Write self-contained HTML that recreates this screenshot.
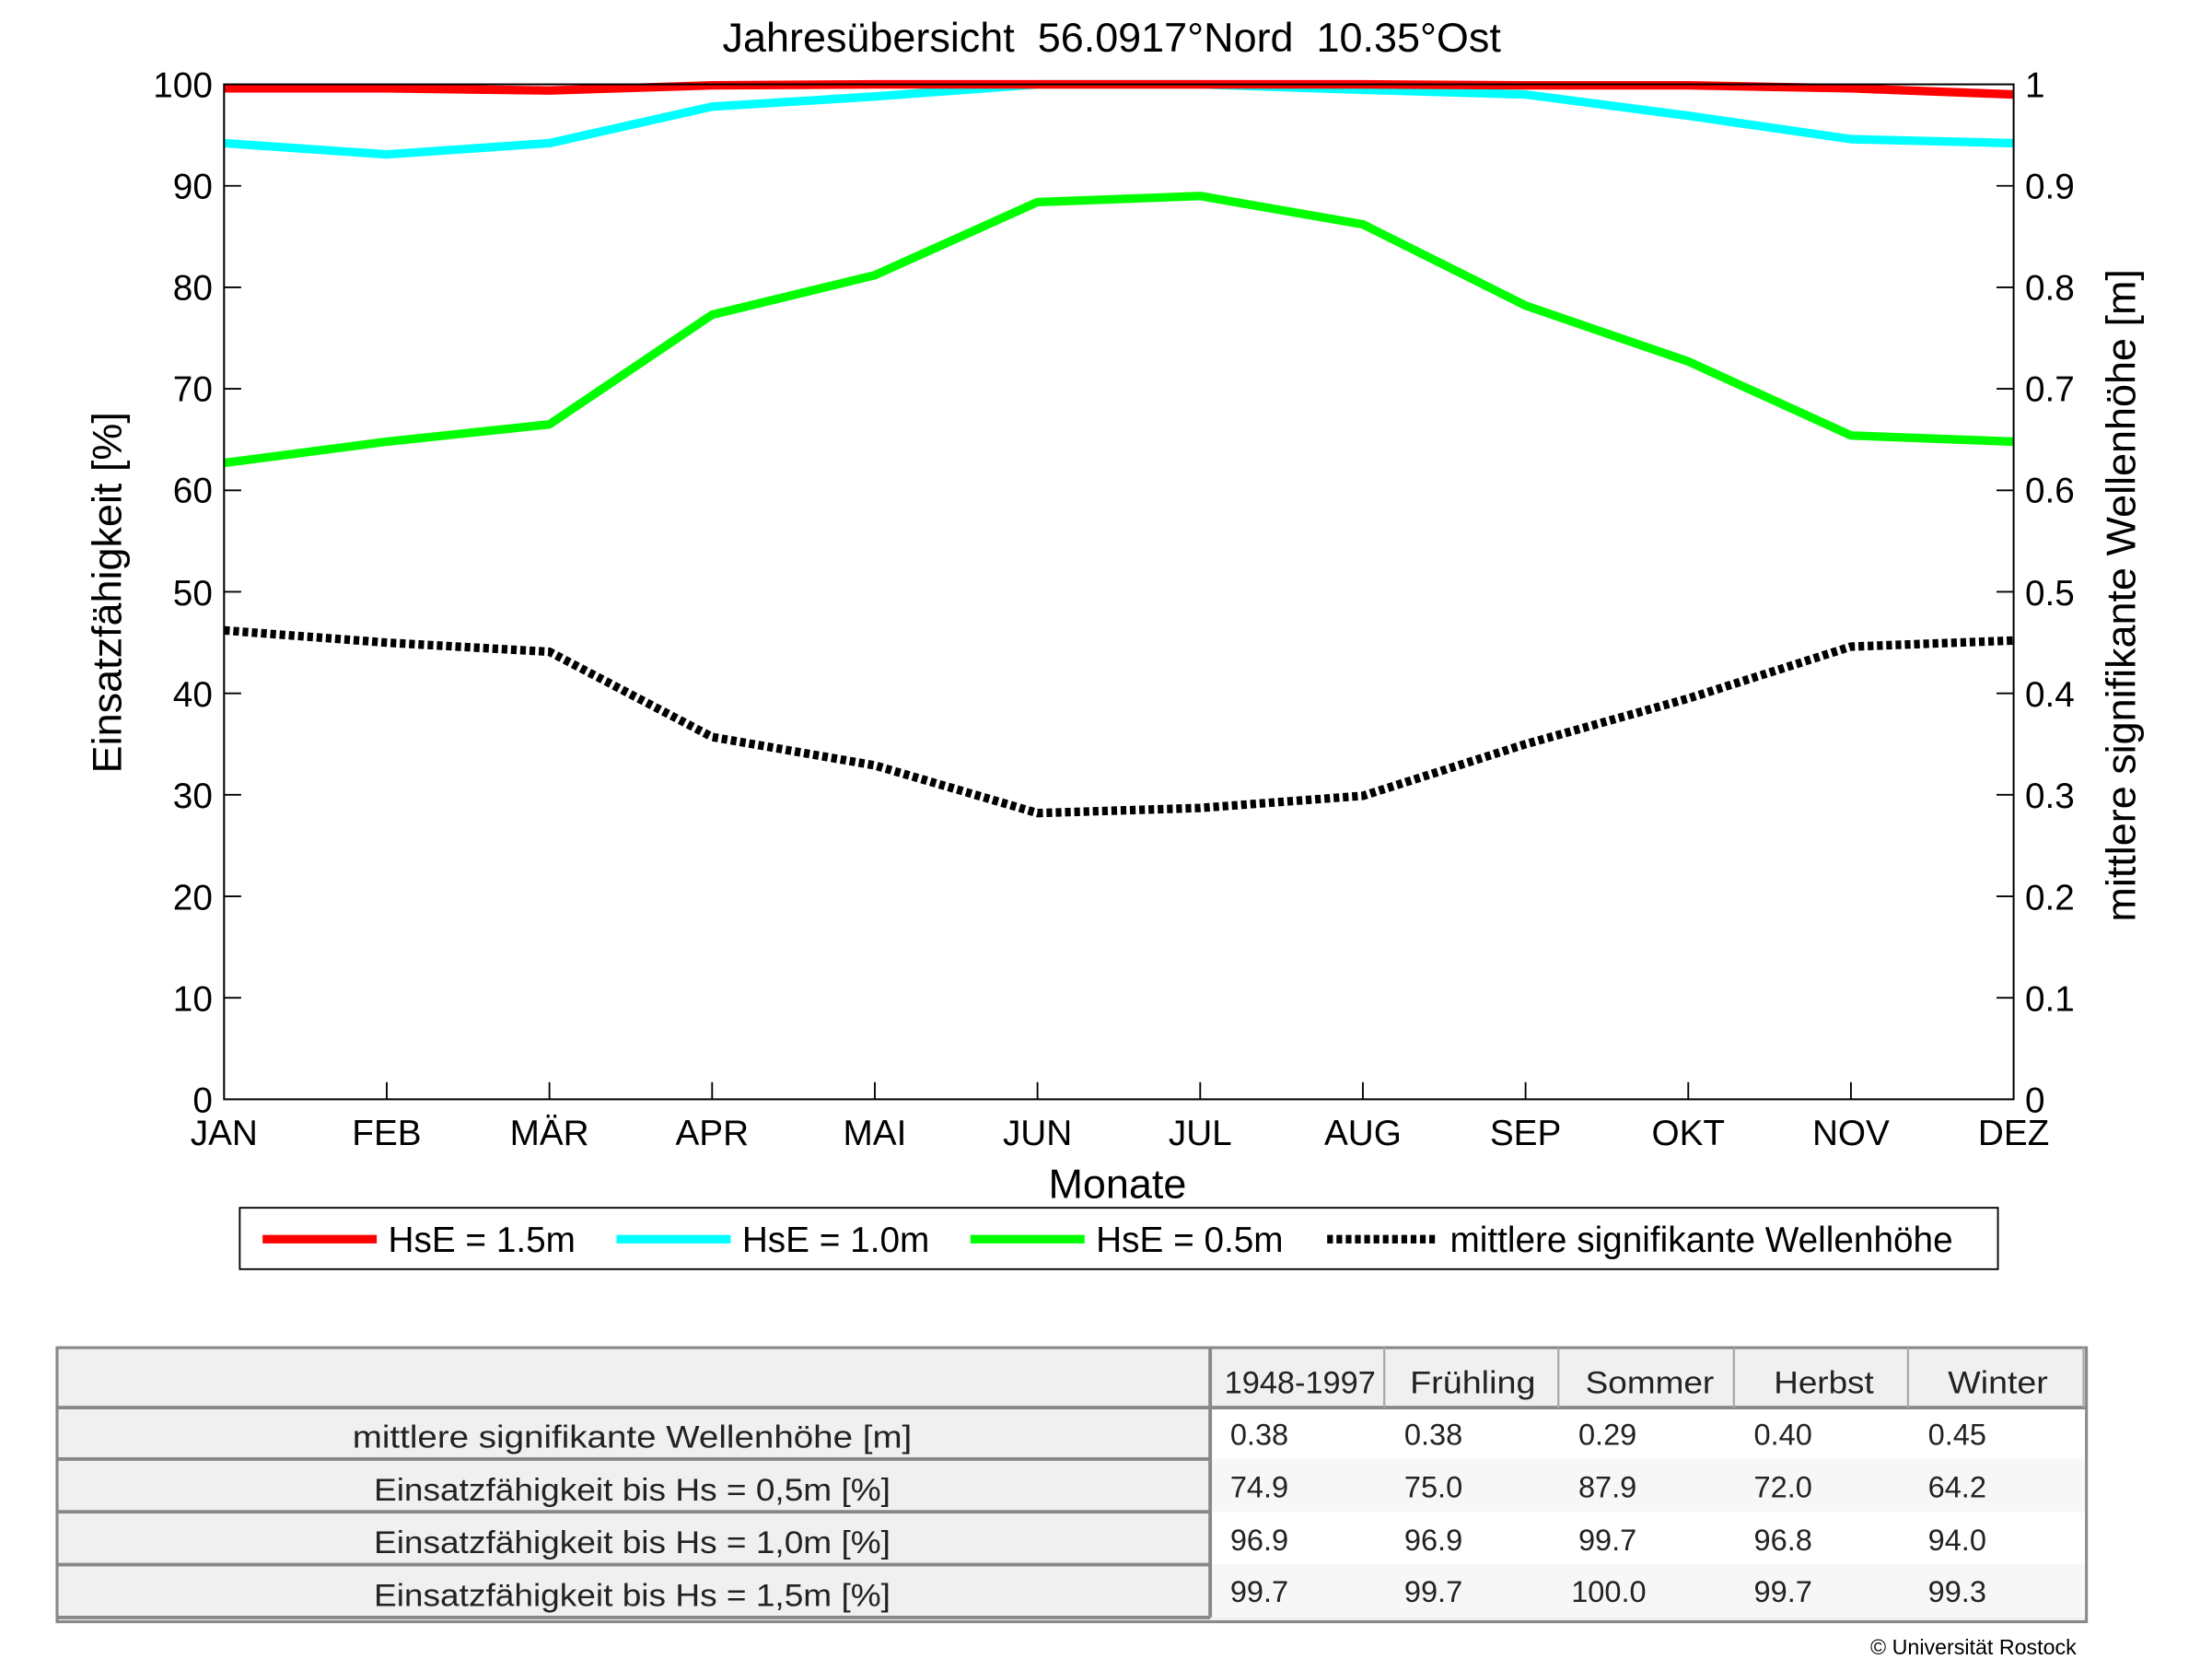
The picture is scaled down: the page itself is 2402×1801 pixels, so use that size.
<!DOCTYPE html>
<html><head><meta charset="utf-8"><style>html,body{margin:0;padding:0;background:#fff}svg{display:block}</style></head>
<body>
<svg width="2402" height="1801" viewBox="0 0 1550 1162" xmlns="http://www.w3.org/2000/svg" font-family="Liberation Sans, sans-serif">
<rect width="1550" height="1162" fill="#fff"/>
<text x="779" y="36" font-size="29" text-anchor="middle">Jahresübersicht&#160; 56.0917°Nord&#160; 10.35°Ost</text>
<g fill="none" stroke-linejoin="round">
<polyline stroke="#00ff00" stroke-width="6" points="157,324.2 271,309.3 385,297.2 499,220.4 613,192.7 727,141.5 841,137.2 955,157.1 1069,214.0 1183,253.1 1297,305.0 1411,309.3"/>
<polyline stroke="#00ffff" stroke-width="6" points="157,100.2 271,108.1 385,100.2 499,74.6 613,67.5 727,59 841,59 955,62.8 1069,66.1 1183,81.0 1297,97.4 1411,100.2"/>
<polyline stroke="#ff0000" stroke-width="6" points="157,61.8 271,61.8 385,63.3 499,59.7 613,59 727,59 841,59 955,59 1069,59.7 1183,59.7 1297,61.8 1411,66.1"/>
<polyline stroke="#000" stroke-width="6" stroke-dasharray="4,2.5" points="157,441.5 271,450.1 385,456.5 499,516.2 613,536.1 727,569.5 841,565.9 955,557.4 1069,521.2 1183,489.2 1297,452.9 1411,448.6"/>
</g>
<rect x="157" y="59" width="1254" height="711" fill="none" stroke="#000" stroke-width="1.3"/>
<g stroke="#000" stroke-width="1.2">
<line x1="157" y1="698.9" x2="169" y2="698.9"/><line x1="157" y1="627.8" x2="169" y2="627.8"/><line x1="157" y1="556.7" x2="169" y2="556.7"/><line x1="157" y1="485.6" x2="169" y2="485.6"/><line x1="157" y1="414.5" x2="169" y2="414.5"/><line x1="157" y1="343.4" x2="169" y2="343.4"/><line x1="157" y1="272.3" x2="169" y2="272.3"/><line x1="157" y1="201.2" x2="169" y2="201.2"/><line x1="157" y1="130.1" x2="169" y2="130.1"/>
<line x1="1399" y1="698.9" x2="1411" y2="698.9"/><line x1="1399" y1="627.8" x2="1411" y2="627.8"/><line x1="1399" y1="556.7" x2="1411" y2="556.7"/><line x1="1399" y1="485.6" x2="1411" y2="485.6"/><line x1="1399" y1="414.5" x2="1411" y2="414.5"/><line x1="1399" y1="343.4" x2="1411" y2="343.4"/><line x1="1399" y1="272.3" x2="1411" y2="272.3"/><line x1="1399" y1="201.2" x2="1411" y2="201.2"/><line x1="1399" y1="130.1" x2="1411" y2="130.1"/>
<line x1="271" y1="770" x2="271" y2="758"/><line x1="385" y1="770" x2="385" y2="758"/><line x1="499" y1="770" x2="499" y2="758"/><line x1="613" y1="770" x2="613" y2="758"/><line x1="727" y1="770" x2="727" y2="758"/><line x1="841" y1="770" x2="841" y2="758"/><line x1="955" y1="770" x2="955" y2="758"/><line x1="1069" y1="770" x2="1069" y2="758"/><line x1="1183" y1="770" x2="1183" y2="758"/><line x1="1297" y1="770" x2="1297" y2="758"/>
</g>
<g font-size="25" text-anchor="end">
<text x="149" y="779">0</text><text x="149" y="708">10</text><text x="149" y="637">20</text><text x="149" y="566">30</text><text x="149" y="495">40</text><text x="149" y="424">50</text><text x="149" y="352">60</text><text x="149" y="281">70</text><text x="149" y="210">80</text><text x="149" y="139">90</text><text x="149" y="68">100</text>
</g>
<g font-size="25">
<text x="1419" y="779">0</text><text x="1419" y="708">0.1</text><text x="1419" y="637">0.2</text><text x="1419" y="566">0.3</text><text x="1419" y="495">0.4</text><text x="1419" y="424">0.5</text><text x="1419" y="352">0.6</text><text x="1419" y="281">0.7</text><text x="1419" y="210">0.8</text><text x="1419" y="139">0.9</text><text x="1419" y="68">1</text>
</g>
<g font-size="25" text-anchor="middle">
<text x="157" y="802">JAN</text><text x="271" y="802">FEB</text><text x="385" y="802">MÄR</text><text x="499" y="802">APR</text><text x="613" y="802">MAI</text><text x="727" y="802">JUN</text><text x="841" y="802">JUL</text><text x="955" y="802">AUG</text><text x="1069" y="802">SEP</text><text x="1183" y="802">OKT</text><text x="1297" y="802">NOV</text><text x="1411" y="802">DEZ</text>
</g>
<text x="783" y="839" font-size="29" text-anchor="middle">Monate</text>
<text transform="translate(85,415) rotate(-90)" font-size="29" text-anchor="middle">Einsatzfähigkeit [%]</text>
<text transform="translate(1496,417) rotate(-90)" font-size="29" text-anchor="middle">mittlere signifikante Wellenhöhe [m]</text>
<rect x="168" y="846" width="1232" height="43" fill="#fff" stroke="#000" stroke-width="1.2"/>
<line x1="184" y1="868" x2="264" y2="868" stroke="#ff0000" stroke-width="6"/>
<text x="272" y="877" font-size="25">HsE = 1.5m</text>
<line x1="432" y1="868" x2="512" y2="868" stroke="#00ffff" stroke-width="6"/>
<text x="520" y="877" font-size="25">HsE = 1.0m</text>
<line x1="680" y1="868" x2="760" y2="868" stroke="#00ff00" stroke-width="6"/>
<text x="768" y="877" font-size="25">HsE = 0.5m</text>
<line x1="930" y1="868" x2="1008" y2="868" stroke="#000" stroke-width="6" stroke-dasharray="4,2.5"/>
<text x="1016" y="877" font-size="25">mittlere signifikante Wellenhöhe</text>
<rect x="40" y="944" width="1422" height="192" fill="#f0f0f0" stroke="#888" stroke-width="2"/>
<rect x="848" y="986" width="613" height="36" fill="#fff"/>
<rect x="848" y="1022" width="613" height="37" fill="#f7f7f7"/>
<rect x="848" y="1059" width="613" height="37" fill="#fff"/>
<rect x="848" y="1096" width="613" height="37" fill="#f7f7f7"/>
<g stroke="#888" stroke-width="2.5">
<line x1="40" y1="986" x2="1462" y2="986"/>
<line x1="40" y1="1022" x2="848" y2="1022"/><line x1="40" y1="1059" x2="848" y2="1059"/><line x1="40" y1="1096" x2="848" y2="1096"/><line x1="40" y1="1133" x2="848" y2="1133"/>
<line x1="848" y1="944" x2="848" y2="1133"/>
</g>
<g stroke="#aaa" stroke-width="1.5">
<line x1="970" y1="944" x2="970" y2="986"/><line x1="1092" y1="944" x2="1092" y2="986"/><line x1="1215" y1="944" x2="1215" y2="986"/><line x1="1337" y1="944" x2="1337" y2="986"/><line x1="1460" y1="944" x2="1460" y2="986"/>
</g>
<g font-size="22" fill="#222">
<text x="858" y="976" textLength="106" lengthAdjust="spacingAndGlyphs">1948-1997</text>
<text x="988" y="976" textLength="88" lengthAdjust="spacingAndGlyphs">Frühling</text>
<text x="1111" y="976" textLength="90" lengthAdjust="spacingAndGlyphs">Sommer</text>
<text x="1243" y="976" textLength="70" lengthAdjust="spacingAndGlyphs">Herbst</text>
<text x="1365" y="976" textLength="70" lengthAdjust="spacingAndGlyphs">Winter</text>
</g>
<g font-size="22" fill="#222" text-anchor="middle">
<text x="443" y="1014" textLength="392" lengthAdjust="spacingAndGlyphs">mittlere signifikante Wellenhöhe [m]</text>
<text x="443" y="1051" textLength="362" lengthAdjust="spacingAndGlyphs">Einsatzfähigkeit bis Hs = 0,5m [%]</text>
<text x="443" y="1088" textLength="362" lengthAdjust="spacingAndGlyphs">Einsatzfähigkeit bis Hs = 1,0m [%]</text>
<text x="443" y="1125" textLength="362" lengthAdjust="spacingAndGlyphs">Einsatzfähigkeit bis Hs = 1,5m [%]</text>
</g>
<g font-size="21" fill="#222">
<text x="862" y="1012">0.38</text><text x="984" y="1012">0.38</text><text x="1106" y="1012">0.29</text><text x="1229" y="1012">0.40</text><text x="1351" y="1012">0.45</text>
<text x="862" y="1049">74.9</text><text x="984" y="1049">75.0</text><text x="1106" y="1049">87.9</text><text x="1229" y="1049">72.0</text><text x="1351" y="1049">64.2</text>
<text x="862" y="1086">96.9</text><text x="984" y="1086">96.9</text><text x="1106" y="1086">99.7</text><text x="1229" y="1086">96.8</text><text x="1351" y="1086">94.0</text>
<text x="862" y="1122">99.7</text><text x="984" y="1122">99.7</text><text x="1101" y="1122">100.0</text><text x="1229" y="1122">99.7</text><text x="1351" y="1122">99.3</text>
</g>
<text x="1455" y="1159" font-size="15" text-anchor="end">© Universität Rostock</text>
</svg>
</body></html>
